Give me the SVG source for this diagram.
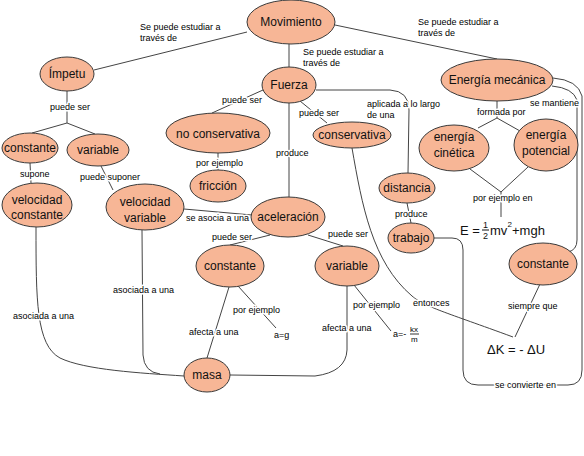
<svg xmlns="http://www.w3.org/2000/svg" width="584" height="456" viewBox="0 0 584 456">
<style>
.n ellipse{fill:#F7B696;stroke:#3a3a3a;stroke-width:1}
.n text,.f{font-family:"Liberation Sans",Arial,sans-serif;font-size:12px;text-anchor:middle;fill:#111}
.ln path{fill:none;stroke:#444;stroke-width:1}
.lb{font-family:"Liberation Sans",Arial,sans-serif;font-size:9px;fill:#000;stroke:#fff;stroke-width:3;stroke-linejoin:round;paint-order:stroke}
.f{text-anchor:start}
</style>
<rect width="584" height="456" fill="#fff"/>
<g id="connectors" class="ln">
<path d="M247,32 L94,70"/>
<path d="M289,44 L289,67"/>
<path d="M335,25 L497,59"/>
<path d="M67,91 L67,123 M67,123 L32,133 M67,123 L95,134"/>
<path d="M30,163 L31,183"/>
<path d="M101,166 L113,190"/>
<path d="M263,90 L212,113"/>
<path d="M300,101 L327,123"/>
<path d="M289,103 L289,197"/>
<path d="M316,90 L390,90 Q409,91 409,110 L408,173"/>
<path d="M218,153 L218,170"/>
<path d="M184,209 L252,215"/>
<path d="M270,235 L230,245"/>
<path d="M308,235 L343,246"/>
<path d="M497,101 L497,118 M497,118 L478,128 M497,118 L520,131"/>
<path d="M470,169 L501,192 L528,167 M501,192 L501,217"/>
<path d="M407,203 L411,223"/>
<path d="M352,148 C362,205 372,262 412,296 C425,307 445,312 513,337"/>
<path d="M540,284 L515,337"/>
<path d="M552,86 Q573,88 577,100 L577,240 Q577,250 568,252"/>
<path d="M434,238 L452,238 Q463,238 463,250 L463,370 Q463,385 478,385 L568,385 Q582,385 582,370 L582,96 Q578,80 553,78"/>
<path d="M238,286 L276,328"/>
<path d="M229,287 L207,358"/>
<path d="M354,285 L391,331"/>
<path d="M347,286 L347,350 Q346,372 315,376 L230,375"/>
<path d="M36,227 C36,300 36,345 60,358 C85,370 140,373 184,376"/>
<path d="M142,230 L143,355 Q144,372 160,374"/>
</g>
<g id="labels">
<text class="lb" x="140" y="30">Se puede estudiar a</text>
<text class="lb" x="140" y="41">través de</text>
<text class="lb" x="303" y="55">Se puede estudiar a</text>
<text class="lb" x="303" y="66">través de</text>
<text class="lb" x="418" y="25">Se puede estudiar a</text>
<text class="lb" x="418" y="36">través de</text>
<text class="lb" x="50" y="110">puede ser</text>
<text class="lb" x="20" y="177">supone</text>
<text class="lb" x="80" y="180">puede suponer</text>
<text class="lb" x="222" y="103">puede ser</text>
<text class="lb" x="299" y="116">puede ser</text>
<text class="lb" x="367" y="107">aplicada a lo largo</text>
<text class="lb" x="367" y="118">de una</text>
<text class="lb" x="477" y="115">formada por</text>
<text class="lb" x="530" y="106">se mantiene</text>
<text class="lb" x="196" y="166">por ejemplo</text>
<text class="lb" x="276" y="156">produce</text>
<text class="lb" x="186" y="221">se asocia a una</text>
<text class="lb" x="395" y="217">produce</text>
<text class="lb" x="473" y="201">por ejemplo en</text>
<text class="lb" x="212" y="240">puede ser</text>
<text class="lb" x="328" y="237">puede ser</text>
<text class="lb" x="233" y="313">por ejemplo</text>
<text class="lb" x="274" y="338">a=g</text>
<text class="lb" x="189" y="335">afecta a una</text>
<text class="lb" x="353" y="308">por ejemplo</text>
<text class="lb" x="322" y="331">afecta a una</text>
<text class="lb" x="393" y="337">a=-</text>
<text class="lb" x="410" y="332" style="font-size:8px">kx</text>
<text class="lb" x="411" y="342" style="font-size:8px">m</text>
<path d="M410,334 L419,334" stroke="#000" stroke-width="0.8"/>
<text class="lb" x="413" y="306">entonces</text>
<text class="lb" x="508" y="309">siempre que</text>
<text class="lb" x="13" y="319">asociada a una</text>
<text class="lb" x="113" y="293">asociada a una</text>
<text class="lb" x="495" y="388">se convierte en</text>
</g>
<g id="formulas">
<text class="f" x="460" y="235" style="font-size:13px">E =</text>
<text class="f" x="483" y="228" style="font-size:9px">1</text>
<path d="M482,230 L489,230" stroke="#111" stroke-width="1"/>
<text class="f" x="483" y="239" style="font-size:9px">2</text>
<text class="f" x="490" y="235" style="font-size:13px">mv</text>
<text class="f" x="507.5" y="227" style="font-size:8px">2</text>
<text class="f" x="512" y="235" style="font-size:13px">+mgh</text>
<text class="f" x="487" y="354" style="font-size:13px">ΔK = - ΔU</text>
</g>
<g id="movimiento" class="n"><ellipse cx="291" cy="22" rx="44" ry="22"/><text x="291" y="26">Movimiento</text></g>
<g id="impetu" class="n"><ellipse cx="67" cy="74" rx="27" ry="17"/><text x="67" y="78">Ímpetu</text></g>
<g id="fuerza" class="n"><ellipse cx="289" cy="85" rx="27" ry="18"/><text x="289" y="89">Fuerza</text></g>
<g id="energia-mecanica" class="n"><ellipse cx="497" cy="80" rx="56" ry="21"/><text x="497" y="84">Energía mecánica</text></g>
<g id="constante-impetu" class="n"><ellipse cx="30" cy="148" rx="28" ry="15"/><text x="30" y="152">constante</text></g>
<g id="variable-impetu" class="n"><ellipse cx="98" cy="150" rx="31" ry="16"/><text x="98" y="154">variable</text></g>
<g id="no-conservativa" class="n"><ellipse cx="218" cy="133" rx="52" ry="20"/><text x="218" y="138">no conservativa</text></g>
<g id="conservativa" class="n"><ellipse cx="352" cy="135" rx="39" ry="13"/><text x="352" y="139">conservativa</text></g>
<g id="energia-cinetica" class="n"><ellipse cx="454" cy="148" rx="35" ry="23"/><text x="454" y="141">energía</text><text x="454" y="157">cinética</text></g>
<g id="energia-potencial" class="n"><ellipse cx="546" cy="145" rx="32" ry="26"/><text x="546" y="139">energía</text><text x="546" y="155">potencial</text></g>
<g id="friccion" class="n"><ellipse cx="218" cy="186" rx="28" ry="16"/><text x="218" y="190">fricción</text></g>
<g id="velocidad-constante" class="n"><ellipse cx="37" cy="205" rx="35" ry="22"/><text x="37" y="204">velocidad</text><text x="37" y="219">constante</text></g>
<g id="velocidad-variable" class="n"><ellipse cx="145" cy="207" rx="39" ry="23"/><text x="145" y="206">velocidad</text><text x="145" y="222">variable</text></g>
<g id="aceleracion" class="n"><ellipse cx="288" cy="217" rx="37" ry="20"/><text x="288" y="221">aceleración</text></g>
<g id="distancia" class="n"><ellipse cx="407" cy="188" rx="28" ry="15"/><text x="407" y="192">distancia</text></g>
<g id="trabajo" class="n"><ellipse cx="411" cy="238" rx="23" ry="15"/><text x="411" y="242">trabajo</text></g>
<g id="constante-aceleracion" class="n"><ellipse cx="230" cy="266" rx="34" ry="21"/><text x="230" y="270">constante</text></g>
<g id="variable-aceleracion" class="n"><ellipse cx="347" cy="266" rx="32" ry="20"/><text x="347" y="270">variable</text></g>
<g id="constante-energia" class="n"><ellipse cx="543" cy="264" rx="34" ry="21"/><text x="543" y="268">constante</text></g>
<g id="masa" class="n"><ellipse cx="207" cy="375" rx="23" ry="17"/><text x="207" y="379">masa</text></g>
</svg>
